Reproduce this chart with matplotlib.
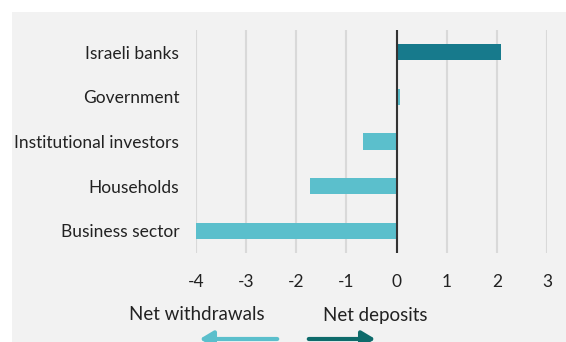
import matplotlib.pyplot as plt
from matplotlib.patches import Rectangle, FancyArrowPatch

# Net deposits by sector (NIS billion)
sectors = ["Israeli banks", "Government", "Institutional investors", "Households", "Business sector"]
values = [2.08, 0.06, -0.67, -1.73, -4.0]
bar_colors = ["#177a8c", "#5bbfcc", "#5bbfcc", "#5bbfcc", "#5bbfcc"]
x_ticks = [-4, -3, -2, -1, 0, 1, 2, 3]

plt.rcParams['font.family'] = ['Lato', 'DejaVu Sans']

W, H = 566, 342
fig = plt.figure(figsize=(W / 100, H / 100), dpi=100)
fig.patch.set_facecolor("white")

# gray panel behind the chart
fig.patches.append(Rectangle((12 / W, 0), 1 - 12 / W, 1 - 12 / H,
                             transform=fig.transFigure, facecolor="#f2f2f2",
                             edgecolor="none", zorder=-5))

ax = fig.add_axes([196 / W, 1 - 253 / H, (547 - 196) / W, (253 - 30) / H])
ax.set_facecolor("none")

ypos = list(range(len(sectors)))[::-1]
ax.barh(ypos, values, height=0.36, color=bar_colors, zorder=3)
ax.axvline(0, color="#333333", linewidth=1.5, zorder=4)

ax.set_xlim(-4, 3)
ax.set_ylim(-0.5, 4.5)
ax.set_xticks(x_ticks)
ax.set_xticklabels([str(t) for t in x_ticks])
ax.set_yticks(ypos)
ax.set_yticklabels(sectors)
ax.grid(axis="x", color="#d9d9d9", linewidth=1.5, zorder=0)
ax.tick_params(length=0, labelsize=12.5, colors="#222222")
ax.tick_params(axis="x", pad=15)
ax.tick_params(axis="y", pad=12)
for s in ax.spines.values():
    s.set_visible(False)

# direction legend under the axis
fig.text(197 / W, 1 - 315 / H, "Net withdrawals", ha="center", va="center",
         fontsize=13.5, color="#222222")
fig.text(375 / W, 1 - 315 / H, "Net deposits", ha="center", va="center",
         fontsize=13.5, color="#222222")
fig.patches.append(FancyArrowPatch((280 / W, 1 - 339 / H), (197 / W, 1 - 339 / H),
                                   transform=fig.transFigure, color="#5bbfcc",
                                   arrowstyle="-|>,head_length=5,head_width=3",
                                   linewidth=3, mutation_scale=1.6))
fig.patches.append(FancyArrowPatch((306 / W, 1 - 339 / H), (378 / W, 1 - 339 / H),
                                   transform=fig.transFigure, color="#0e6b6b",
                                   arrowstyle="-|>,head_length=5,head_width=3",
                                   linewidth=3, mutation_scale=1.6))

fig.savefig("out.png", dpi=100, facecolor=fig.get_facecolor())
